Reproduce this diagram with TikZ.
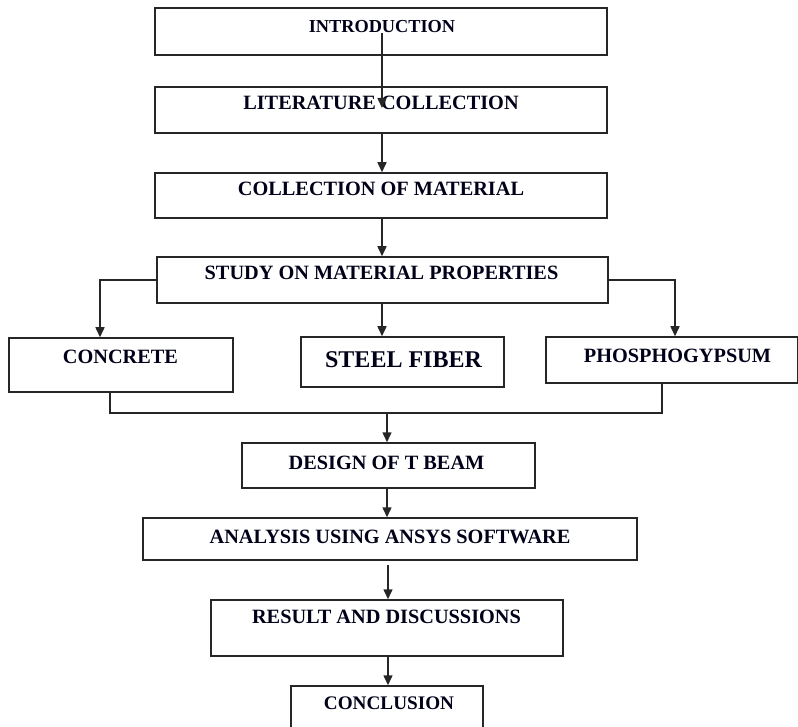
\documentclass[tikz,border=0pt]{standalone}
\usepackage{fontspec}
\setmainfont{Liberation Serif}
\usetikzlibrary{arrows.meta}
\tikzset{
  box/.style={draw=black!85, line width=1.5pt, rectangle, inner sep=0pt},
  lbl/.style={inner sep=0pt, font=\bfseries\fontsize{20.3}{22}\selectfont, text=black!90!blue},
  conn/.style={draw=black!85, line width=1.5pt},
  arr/.style={conn, -{Triangle[length=10pt,width=9pt]}}
}
\begin{document}
\begin{tikzpicture}[x=1pt,y=-1pt]
\useasboundingbox (0,0) rectangle (798,727);
% boxes as named nodes
\node[box, minimum width=452pt, minimum height=47pt] (intro) at (381,31.5) {};
\node[box, minimum width=452pt, minimum height=46pt] (lit) at (381,110) {};
\node[box, minimum width=452pt, minimum height=45pt] (coll) at (381,195.5) {};
\node[box, minimum width=451pt, minimum height=46pt] (study) at (382.5,280) {};
\node[box, minimum width=224pt, minimum height=54pt] (concrete) at (121,365) {};
\node[box, minimum width=203pt, minimum height=50pt] (steel) at (402.5,362) {};
\node[box, minimum width=252pt, minimum height=46pt] (phos) at (672,360) {};
\node[box, minimum width=293pt, minimum height=45pt] (design) at (388.5,465.5) {};
\node[box, minimum width=494pt, minimum height=42pt] (analysis) at (390,539) {};
\node[box, minimum width=352pt, minimum height=56pt] (result) at (387,628) {};
\node[box, minimum width=192pt, minimum height=74pt] (concl) at (387,723) {};
% texts
\node[lbl, font=\bfseries\fontsize{18.3}{20}\selectfont] (tintro) at (382,27) {INTRODUCTION};
\node[lbl] (tlit) at (381,103) {LITERATURE COLLECTION};
\node[lbl] (tcoll) at (381,189) {COLLECTION OF MATERIAL};
\node[lbl] (tstudy) at (381.5,273) {STUDY ON MATERIAL PROPERTIES};
\node[lbl] (tconc) at (120.5,357) {CONCRETE};
\node[lbl, font=\bfseries\fontsize{24}{26}\selectfont] (tsteel) at (403.5,360) {STEEL FIBER};
\node[lbl] (tphos) at (677.5,356) {PHOSPHOGYPSUM};
\node[lbl] (tdesign) at (386.5,463) {DESIGN OF T BEAM};
\node[lbl] (tanal) at (390,537) {ANALYSIS USING ANSYS SOFTWARE};
\node[lbl] (tres) at (386.5,617) {RESULT AND DISCUSSIONS};
\node[lbl, font=\bfseries\fontsize{19.2}{21}\selectfont] (tconcl) at (389,703) {CONCLUSION};
% helper coordinates
\coordinate (a1s) at (382,33);
\coordinate (a1e) at (382,108);
\coordinate (lb) at (100,280);
\coordinate (rb) at (675,280);
\coordinate (cm) at (110,413);
\coordinate (pm) at (662,413);
\coordinate (mm) at (387,413);
\coordinate (as) at (388,565);
% connectors
\draw[arr] (a1s) -- (a1e);
\draw[arr] (382,0 |- lit.south) -- (382,0 |- coll.north);
\draw[arr] (382,0 |- coll.south) -- (382,0 |- study.north);
\draw[arr] (study.west |- lb) -- (lb) -- (lb |- concrete.north);
\draw[arr] (study.east |- rb) -- (rb) -- (rb |- phos.north);
\draw[arr] (382,0 |- study.south) -- (382,0 |- steel.north);
\draw[conn] (cm |- concrete.south) -- (cm) -- (pm) -- (pm |- phos.south);
\draw[arr] (mm) -- (mm |- design.north);
\draw[arr] (387,0 |- design.south) -- (387,0 |- analysis.north);
\draw[arr] (as) -- (as |- result.north);
\draw[arr] (388,0 |- result.south) -- (388,0 |- concl.north);
\end{tikzpicture}
\end{document}
